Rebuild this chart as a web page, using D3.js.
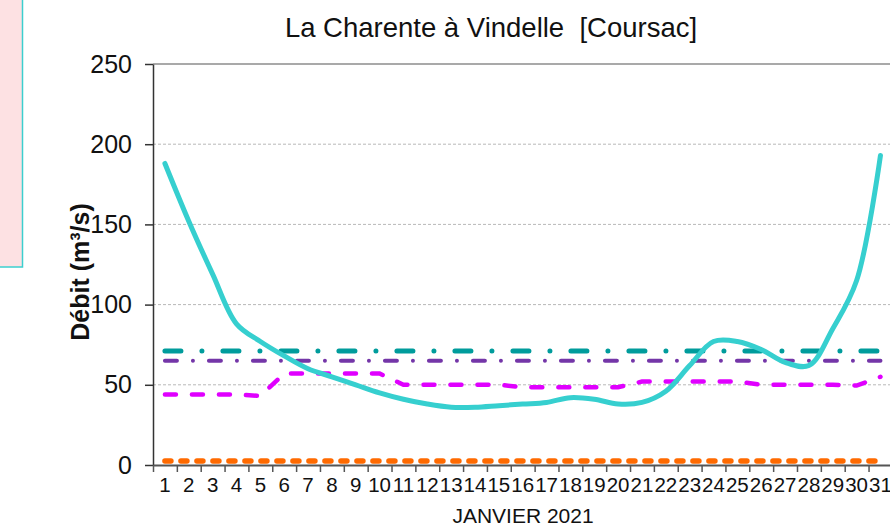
<!DOCTYPE html>
<html>
<head>
<meta charset="utf-8">
<script src="https://cdn.jsdelivr.net/npm/d3@7"></script>
<style>
  body { margin: 0; background: #fff; }
  svg { display: block; font-family: "Liberation Sans", Arial, sans-serif; }
</style>
</head>
<body>
<svg id="chart"></svg>
<script>
// jours du mois
const jours = [1, 2, 3, 4, 5, 6, 7, 8, 9, 10, 11, 12, 13, 14, 15, 16,
  17, 18, 19, 20, 21, 22, 23, 24, 25, 26, 27, 28, 29, 30, 31];

// débit journalier (m3/s)
const debitJournalier = [188, 152, 119, 88, 77, 68, 60, 55, 50, 45, 41, 38, 36, 36, 37, 38,
  39, 42, 41, 38, 39, 46, 62, 77, 77, 72, 64, 62, 85, 115, 193];

// courbe de référence (tirets magenta)
const debitReference = [44, 44, 44, 44, 43, 57, 57, 57, 57, 57, 50, 50, 50, 50, 50, 48.5,
  48.5, 48.5, 48.5, 48.5, 52, 52, 52, 52, 52, 50, 50, 50, 50, 49.5, 55];

// seuils constants
const seuilHaut = 71;
const seuilMoyen = 65;
const seuilCrise = 2.5;

const yTicks = [0, 50, 100, 150, 200, 250];

const W = 890, H = 527;
const margin = { left: 153, top: 64, bottom: 62 };
const plotRight = 892.4;
const plotBottom = H - margin.bottom; // 465

const svg = d3.select("#chart").attr("width", W).attr("height", H);

// cadre rose à gauche
svg.append("rect")
  .attr("x", -10).attr("y", -10)
  .attr("width", 32.5).attr("height", 277)
  .attr("fill", "#fde1e3")
  .attr("stroke", "#3ccfcf")
  .attr("stroke-width", 1.5);

const x = d3.scaleBand()
  .domain(jours)
  .range([margin.left, plotRight])
  .padding(0);
const xc = d => x(d) + x.bandwidth() / 2;

const y = d3.scaleLinear()
  .domain([0, 250])
  .range([plotBottom, margin.top]);

// grille
svg.append("g")
  .selectAll("line")
  .data(yTicks.filter(v => v > 0 && v < 250))
  .join("line")
    .attr("x1", margin.left).attr("x2", plotRight)
    .attr("y1", d => y(d)).attr("y2", d => y(d))
    .attr("stroke", "#b8b8b8")
    .attr("stroke-width", 1)
    .attr("stroke-dasharray", "3,2");

svg.append("line")
  .attr("x1", margin.left).attr("x2", plotRight)
  .attr("y1", y(250)).attr("y2", y(250))
  .attr("stroke", "#8c8c8c")
  .attr("stroke-width", 1.5);

// axe Y
const yAxisG = svg.append("g")
  .attr("transform", `translate(${margin.left},0)`)
  .call(d3.axisLeft(y).tickValues(yTicks).tickSize(8).tickSizeOuter(0).tickPadding(13));
yAxisG.select(".domain").attr("stroke", "#333").attr("stroke-width", 1.5);
yAxisG.selectAll(".tick line").attr("stroke", "#333").attr("stroke-width", 1.5);
yAxisG.selectAll("text")
  .attr("font-size", 25)
  .attr("fill", "#111")
  .attr("font-family", "Liberation Sans, Arial, sans-serif");

// axe X : traits aux limites des jours
const xEdges = d3.scaleLinear().domain([0, jours.length]).range([margin.left, plotRight]);
const xTickG = svg.append("g")
  .attr("transform", `translate(0,${plotBottom})`)
  .call(d3.axisBottom(xEdges).ticks(jours.length).tickSize(7).tickSizeOuter(0).tickFormat(""));
xTickG.select(".domain").attr("stroke", "#555").attr("stroke-width", 2);
xTickG.selectAll(".tick line").attr("stroke", "#555").attr("stroke-width", 1.5);

const xAxisG = svg.append("g")
  .attr("transform", `translate(0,${plotBottom})`)
  .call(d3.axisBottom(x).tickSize(0).tickPadding(12));
xAxisG.select(".domain").remove();
xAxisG.selectAll("text")
  .attr("font-size", 20.5)
  .attr("fill", "#111")
  .attr("font-family", "Liberation Sans, Arial, sans-serif");

// séries
const line = d3.line().x(d => xc(d.jour)).y(d => y(d.v));

function constante(v) {
  return jours.map(j => ({ jour: j, v: v }));
}

svg.append("path")
  .datum(constante(seuilCrise))
  .attr("d", line)
  .attr("fill", "none")
  .attr("stroke", "#ff6a00")
  .attr("stroke-width", 5.5)
  .attr("stroke-linecap", "round")
  .attr("stroke-dasharray", "6,10");

svg.append("path")
  .datum(jours.map((j, i) => ({ jour: j, v: debitReference[i] })))
  .attr("d", line)
  .attr("fill", "none")
  .attr("stroke", "#e000ff")
  .attr("stroke-width", 4.5)
  .attr("stroke-linecap", "round")
  .attr("stroke-dasharray", "11,16");

svg.append("path")
  .datum(constante(seuilMoyen))
  .attr("d", line)
  .attr("fill", "none")
  .attr("stroke", "#7436a8")
  .attr("stroke-width", 4)
  .attr("stroke-linecap", "round")
  .attr("stroke-dasharray", "12,16,0,16");

svg.append("path")
  .datum(constante(seuilHaut))
  .attr("d", line)
  .attr("fill", "none")
  .attr("stroke", "#009c9c")
  .attr("stroke-width", 5)
  .attr("stroke-linecap", "round")
  .attr("stroke-dasharray", "16,21,0,21");

svg.append("path")
  .datum(jours.map((j, i) => ({ jour: j, v: debitJournalier[i] })))
  .attr("d", line.curve(d3.curveCatmullRom.alpha(0.5)))
  .attr("fill", "none")
  .attr("stroke", "#36cfcf")
  .attr("stroke-width", 5)
  .attr("stroke-linecap", "round");

// titres
svg.append("text")
  .attr("x", 491).attr("y", 37)
  .attr("text-anchor", "middle")
  .attr("font-size", 27.5)
  .attr("fill", "#111")
  .style("white-space", "pre")
  .text("La Charente à Vindelle  [Coursac]");

svg.append("text")
  .attr("transform", "translate(89,272) rotate(-90)")
  .attr("text-anchor", "middle")
  .attr("font-size", 25)
  .attr("font-weight", "bold")
  .attr("fill", "#111")
  .text("Débit (m³/s)");

svg.append("text")
  .attr("x", 523).attr("y", 523)
  .attr("text-anchor", "middle")
  .attr("font-size", 21)
  .attr("fill", "#111")
  .text("JANVIER 2021");
</script>
</body>
</html>
